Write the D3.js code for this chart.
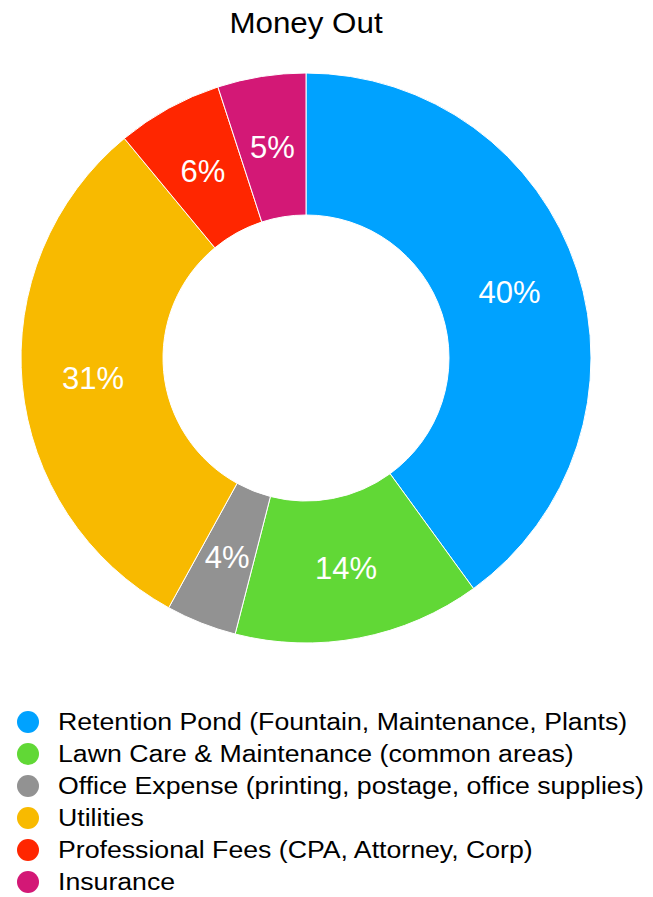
<!DOCTYPE html>
<html>
<head>
<meta charset="utf-8">
<script src="https://cdn.jsdelivr.net/npm/d3@7"></script>
<style>
  body { margin: 0; background: #fff; }
  svg { display: block; font-family: "Liberation Sans", Arial, sans-serif; }
</style>
</head>
<body>
<div id="chart"></div>
<script>
const categories = [
  `Retention Pond (Fountain, Maintenance, Plants)`,
  `Lawn Care & Maintenance (common areas)`,
  `Office Expense (printing, postage, office supplies)`,
  `Utilities`,
  `Professional Fees (CPA, Attorney, Corp)`,
  `Insurance`
];
const values = [40, 14, 4, 31, 6, 5];
const colors = [`#00A2FF`, `#61D836`, `#929292`, `#F8BA00`, `#FF2600`, `#D31876`];

const width = 653;
const height = 897;
const cx = 306;
const cy = 358;
const outerR = 285;
const innerR = 143;
// reference font runs wider than Liberation Sans
const stretch = 1.16;

const data = categories.map((c, i) => ({name: c, value: values[i], color: colors[i]}));

const svg = d3.select(`#chart`)
  .append(`svg`)
    .attr(`width`, width)
    .attr(`height`, height);

svg.append(`text`)
  .attr(`transform`, `translate(${cx},33) scale(1.08,1)`)
  .attr(`text-anchor`, `middle`)
  .attr(`font-size`, 29)
  .attr(`fill`, `#000`)
  .text(`Money Out`);

const pie = d3.pie()
  .value(d => d.value)
  .sort(null);

const arc = d3.arc()
  .innerRadius(innerR)
  .outerRadius(outerR);

const g = svg.append(`g`)
  .attr(`transform`, `translate(${cx},${cy})`);

const slices = g.selectAll(`.slice`)
  .data(pie(data))
  .enter().append(`g`)
    .attr(`class`, `slice`);

slices.append(`path`)
  .attr(`d`, arc)
  .attr(`fill`, d => d.data.color)
  .attr(`stroke`, `#fff`)
  .attr(`stroke-width`, 1);

slices.append(`text`)
  .attr(`transform`, d => `translate(${arc.centroid(d)})`)
  .attr(`text-anchor`, `middle`)
  .attr(`dy`, `0.36em`)
  .attr(`font-size`, 31)
  .attr(`fill`, `#fff`)
  .text(d => `${d.data.value}%`);

// legend
const legend = svg.append(`g`)
  .attr(`transform`, `translate(0,722)`);

const rows = legend.selectAll(`.row`)
  .data(data)
  .enter().append(`g`)
    .attr(`class`, `row`)
    .attr(`transform`, (d, i) => `translate(0,${i * 32})`);

rows.append(`circle`)
  .attr(`cx`, 28)
  .attr(`cy`, 0)
  .attr(`r`, 11)
  .attr(`fill`, d => d.color);

rows.append(`text`)
  .attr(`transform`, `translate(58,0) scale(${stretch},1)`)
  .attr(`dy`, `0.36em`)
  .attr(`font-size`, 23)
  .attr(`fill`, `#000`)
  .text(d => d.name);
</script>
</body>
</html>
